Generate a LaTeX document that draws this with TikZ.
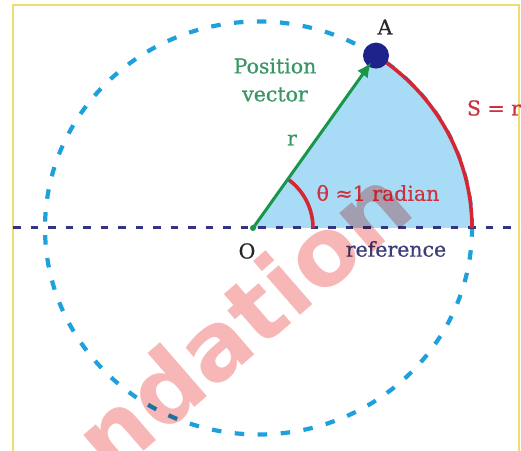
\documentclass[tikz,border=0pt]{standalone}
\usepackage{fontspec}
\setmainfont{DejaVu Serif}
\newfontfamily\lblfont[FakeBold=0.6]{DejaVu Serif}
\newfontfamily\wmfont{DejaVu Sans}
\usetikzlibrary{arrows.meta,calc}
\definecolor{sectorfill}{RGB}{168,219,245}
\definecolor{circblue}{RGB}{30,160,220}
\definecolor{refnavy}{RGB}{52,52,130}
\definecolor{arcred}{RGB}{214,38,50}
\definecolor{vecgreen}{RGB}{25,150,75}
\definecolor{txtgreen}{RGB}{55,150,100}
\definecolor{txtred}{RGB}{205,50,62}
\definecolor{txtnavy}{RGB}{60,60,120}
\definecolor{txtblack}{RGB}{40,40,40}
\definecolor{dotnavy}{RGB}{30,35,140}
\definecolor{wmpink}{RGB}{247,183,183}
\definecolor{frameyellow}{RGB}{240,220,110}
\tikzset{
  lbl/.style={inner sep=1pt, font=\lblfont\fontsize{20.5}{28}\selectfont, align=center},
  circdash/.style={circblue, line width=4.2pt, dash pattern=on 9.5pt off 13.5pt},
  refdash/.style={refnavy, line width=3pt, dash pattern=on 7.5pt off 10pt},
  redarc/.style={arcred, line width=3.6pt},
  vecline/.style={vecgreen, line width=3pt, -{Latex[length=15pt,width=13pt]}},
}
\begin{document}
\begin{tikzpicture}[x=1pt,y=1pt]
\useasboundingbox (0,0) rectangle (521,450);
\fill[white] (0,0) rectangle (521,450);
\draw[frameyellow, line width=1.3pt] (13,-5) -- (13,445) -- (519,445) -- (519,-5);
\coordinate (O) at (253,222);
\coordinate (C) at (258.5,222);
\coordinate (E) at (472,222);
\coordinate (Apt) at (376,394.4);
% dashed circle
\draw[circdash] (C) ellipse[x radius=213.5, y radius=206.5];
% sector
\fill[sectorfill] (O) -- (E) arc[start angle=0, end angle=56.6, x radius=213.5, y radius=206.5] -- cycle;
% reference line
\coordinate (refL) at (13,222);
\coordinate (refR) at (525,222);
\draw[refdash] (refL) -- (refR);
% red arcs
\draw[redarc] (Apt) arc[start angle=56.6, end angle=0, x radius=213.5, y radius=206.5];
\draw[redarc] (O) ++(54.4:60) arc[start angle=54.4, end angle=0, radius=60];
% point A
\node[circle, fill=dotnavy, minimum size=26pt, inner sep=0pt] (Adot) at (Apt) {};
\fill[vecgreen] (O) circle[radius=3pt];
\draw[vecline, shorten >=8pt] (O) -- (Adot.center);
% labels
\node[lbl, text=txtblack] (Alab) at (385,423) {A};
\node[lbl, text=txtgreen] (pos) at (275,370) {Position\\vector};
\node[lbl, text=txtgreen] (rlab) at (292,310) {r};
\node[lbl, text=txtred] (theta) at (378,257) {θ ≈1 radian};
\node[lbl, text=txtred] (slab) at (494,342) {S = r};
\node[lbl, text=txtblack] (Olab) at (247,199) {O};
\node[lbl, text=txtnavy] (ref) at (396,201) {reference};
% watermark
\begin{scope}[blend mode=multiply]
\node[text=wmpink, font=\wmfont\bfseries\fontsize{94}{94}\selectfont, rotate=41, inner sep=0pt] (wm) at (242,130) {ndation};
\end{scope}
\end{tikzpicture}
\end{document}
